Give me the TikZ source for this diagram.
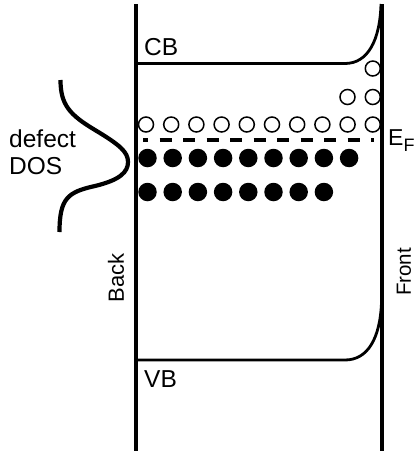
\documentclass[tikz,border=0pt]{standalone}
\usepackage{fontspec}
\setmainfont{Liberation Sans}
\begin{document}
\begin{tikzpicture}[x=1pt,y=-1pt,
  lbl/.style={inner sep=0pt,font=\fontsize{24.5}{28}\selectfont},
  opencirc/.style={circle,draw,line width=1.5pt,minimum size=15pt,inner sep=0pt},
  fullcirc/.style={circle,fill,minimum size=18.5pt,inner sep=0pt},
  wall/.style={line width=3.2pt},
  band/.style={line width=2.8pt},
]
\useasboundingbox (0,0) rectangle (416,451);
% walls
\coordinate (bt) at (136,4); \coordinate (bb) at (136,451);
\coordinate (ft) at (382,4); \coordinate (fb) at (382,451);
\draw[wall] (bt) -- (bb);
\draw[wall] (ft) -- (fb);
% bands
\coordinate (cbl) at (136,63.5); \coordinate (cbk) at (345,63.5); \coordinate (cbe) at (381,4);
\draw[band] (cbl) -- (cbk) .. controls (368,63.5) and (380,40) .. (cbe);
\coordinate (vbl) at (136,360); \coordinate (vbk) at (345,360); \coordinate (vbe) at (381.5,303);
\draw[band] (vbl) -- (vbk) .. controls (368,360) and (380,338) .. (vbe);
% Fermi level
\coordinate (efl) at (143,140); \coordinate (efr) at (374,140);
\draw[line width=3.8pt,dash pattern=on 12pt off 11.5pt,dash phase=7pt] (efl) -- (efr);
% open circles
\foreach \i in {0,...,9}{\node[opencirc] (oa\i) at (146+25.2*\i,124.5) {};}
\node[opencirc] (ob1) at (347.5,97) {};
\node[opencirc] (ob2) at (372.8,97) {};
\node[opencirc] (oc1) at (372.8,68.5) {};
% filled circles
\foreach \i in {0,...,8}{\node[fullcirc] (fa\i) at (147.5+25.2*\i,158) {};}
\foreach \i in {0,...,7}{\node[fullcirc] (fb\i) at (147.5+25.2*\i,192) {};}
% DOS curve
\coordinate (d0) at (60.5,80); \coordinate (d1) at (95,130); \coordinate (d2) at (128,162);
\coordinate (d3) at (95,186); \coordinate (d4) at (59.5,232);
\draw[line width=4.2pt] (d0) .. controls (60.5,105) and (70,115) .. (d1)
  .. controls (120,145) and (128,152) .. (d2)
  .. controls (128,172) and (120,180) .. (d3)
  .. controls (68,192) and (59.5,198) .. (d4);
% labels
\node[lbl,anchor=base west] (cb) at (144,55) {CB};
\node[lbl,anchor=base west] (vb) at (144,387) {VB};
\node[lbl,anchor=base west] (def) at (9,147) {defect};
\node[lbl,anchor=base west] (dos) at (9,174) {DOS};
\node[lbl,anchor=base west,font=\fontsize{23}{27}\selectfont] (ef) at (388,145) {E\raisebox{-6.7pt}{\fontsize{18}{18}\selectfont F}};
\node[lbl,rotate=90,font=\fontsize{22}{26}\selectfont] (back) at (116,278) {Back};
\node[lbl,rotate=90,font=\fontsize{20.5}{24}\selectfont] (front) at (404,272) {Front};
\end{tikzpicture}
\end{document}
